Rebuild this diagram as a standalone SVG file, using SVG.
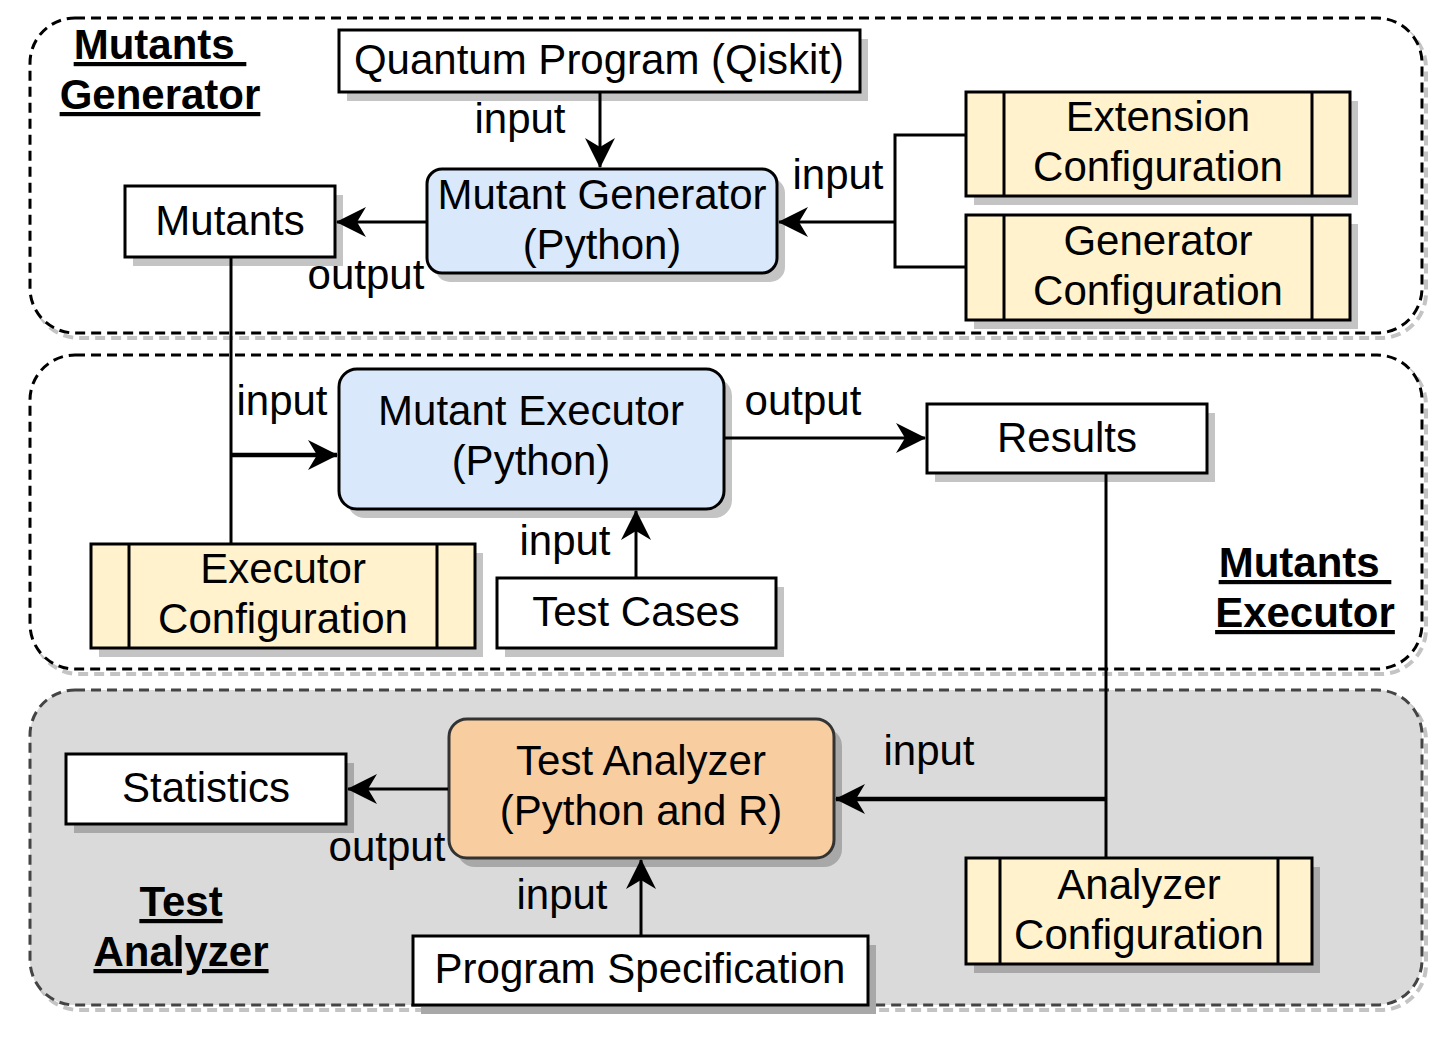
<svg xmlns="http://www.w3.org/2000/svg" width="1450" height="1050" viewBox="0 0 1450 1050">
<defs>
<marker id="arr" markerUnits="userSpaceOnUse" markerWidth="32" markerHeight="32" viewBox="0 0 32 32" refX="30" refY="16" orient="auto">
<path d="M 1 1 L 31 16 L 1 31 L 10 16 Z" fill="#000"/>
</marker>
<style>
text{font-family:"Liberation Sans",Arial,Helvetica,sans-serif;font-size:42px;fill:#000;text-anchor:middle}
.t{font-weight:bold;text-decoration:underline;white-space:pre}
.box{stroke:#000;stroke-width:3}
.sh{fill:#c4c4c4;stroke:none}
.cont{fill:#fff;stroke:#000;stroke-width:3;stroke-dasharray:10 6}
.csh{fill:none;stroke:#c4c4c4;stroke-width:4;stroke-dasharray:10 6}
.e{fill:none;stroke:#000;stroke-width:3}
</style>
</defs>

<g id="group-generator">
<rect x="34" y="23" width="1392" height="315" rx="45" class="csh"/>
<rect x="30" y="18" width="1392" height="315" rx="45" class="cont"/>
<text class="t" x="160" y="59">Mutants </text>
<text class="t" x="160" y="109">Generator</text>
</g>
<g id="group-executor">
<rect x="34" y="360" width="1392" height="314" rx="45" class="csh"/>
<rect x="30" y="355" width="1392" height="314" rx="45" class="cont"/>
<text class="t" x="1305" y="577">Mutants </text>
<text class="t" x="1305" y="627">Executor</text>
</g>
<g id="group-analyzer">
<rect x="34" y="695" width="1392" height="315" rx="45" class="csh"/>
<rect x="30" y="690" width="1392" height="315" rx="45" class="cont" style="fill:#dadada;stroke:#444"/>
<text class="t" x="181" y="916">Test</text>
<text class="t" x="181" y="966">Analyzer</text>
</g>

<g id="quantum-program">
<rect x="347" y="39" width="521" height="62" class="sh"/>
<rect x="339" y="30" width="521" height="62" class="box" fill="#fff"/>
<text x="599" y="74">Quantum Program (Qiskit)</text>
</g>
<g id="mutant-generator">
<rect x="435" y="178" width="350" height="104" rx="15" class="sh"/>
<rect x="427" y="169" width="350" height="104" rx="15" class="box" fill="#dae8fc"/>
<text x="602" y="209">Mutant Generator</text>
<text x="602" y="259">(Python)</text>
</g>
<g id="mutants">
<rect x="133" y="195" width="210" height="71" class="sh"/>
<rect x="125" y="186" width="210" height="71" class="box" fill="#fff"/>
<text x="230" y="235">Mutants</text>
</g>
<g id="extension-config">
<rect x="974" y="101" width="384" height="104" class="sh"/>
<rect x="966" y="92" width="384" height="104" class="box" fill="#fff2cc"/>
<path d="M 1004 92 L 1004 196 M 1312 92 L 1312 196" class="box"/>
<text x="1158" y="131">Extension</text>
<text x="1158" y="181">Configuration</text>
</g>
<g id="generator-config">
<rect x="974" y="224" width="384" height="105" class="sh"/>
<rect x="966" y="215" width="384" height="105" class="box" fill="#fff2cc"/>
<path d="M 1004 215 L 1004 320 M 1312 215 L 1312 320" class="box"/>
<text x="1158" y="255">Generator</text>
<text x="1158" y="305">Configuration</text>
</g>
<g id="mutant-executor">
<rect x="347" y="378" width="385" height="140" rx="18" class="sh"/>
<rect x="339" y="369" width="385" height="140" rx="18" class="box" fill="#dae8fc"/>
<text x="531" y="425">Mutant Executor</text>
<text x="531" y="475">(Python)</text>
</g>
<g id="results">
<rect x="935" y="413" width="280" height="69" class="sh"/>
<rect x="927" y="404" width="280" height="69" class="box" fill="#fff"/>
<text x="1067" y="452">Results</text>
</g>
<g id="executor-config">
<rect x="99" y="553" width="384" height="104" class="sh"/>
<rect x="91" y="544" width="384" height="104" class="box" fill="#fff2cc"/>
<path d="M 129 544 L 129 648 M 437 544 L 437 648" class="box"/>
<text x="283" y="583">Executor</text>
<text x="283" y="633">Configuration</text>
</g>
<g id="test-cases">
<rect x="505" y="587" width="279" height="70" class="sh"/>
<rect x="497" y="578" width="279" height="70" class="box" fill="#fff"/>
<text x="636" y="626">Test Cases</text>
</g>
<g id="statistics">
<rect x="74" y="763" width="280" height="70" class="sh" style="fill:#a8a8a8"/>
<rect x="66" y="754" width="280" height="70" class="box" fill="#fff"/>
<text x="206" y="802">Statistics</text>
</g>
<g id="test-analyzer">
<rect x="457" y="728" width="385" height="139" rx="18" class="sh" style="fill:#a8a8a8"/>
<rect x="449" y="719" width="385" height="139" rx="18" class="box" fill="#f8cda0" style="stroke:#333"/>
<text x="641" y="775">Test Analyzer</text>
<text x="641" y="825">(Python and R)</text>
</g>
<g id="program-spec">
<rect x="421" y="945" width="455" height="69" class="sh" style="fill:#a8a8a8"/>
<rect x="413" y="936" width="455" height="69" class="box" fill="#fff"/>
<text x="640" y="983">Program Specification</text>
</g>
<g id="analyzer-config">
<rect x="974" y="867" width="346" height="106" class="sh" style="fill:#a8a8a8"/>
<rect x="966" y="858" width="346" height="106" class="box" fill="#fff2cc"/>
<path d="M 1000 858 L 1000 964 M 1278 858 L 1278 964" class="box"/>
<text x="1139" y="899">Analyzer</text>
<text x="1139" y="949">Configuration</text>
</g>

<g id="connectors">
<path class="e" d="M 600 93 L 600 167" marker-end="url(#arr)"/>
<path class="e" d="M 426 222 L 337 222" marker-end="url(#arr)"/>
<path class="e" d="M 965 135 L 895 135 L 895 267 L 965 267 M 895 222 L 779 222" marker-end="url(#arr)"/>
<path class="e" d="M 231 258 L 231 543"/>
<path class="e" style="stroke-width:4.5" d="M 231 455 L 337 455" marker-end="url(#arr)"/>
<path class="e" d="M 725 438 L 925 438" marker-end="url(#arr)"/>
<path class="e" d="M 636 577 L 636 511" marker-end="url(#arr)"/>
<path class="e" d="M 1106 474 L 1106 857"/>
<path class="e" style="stroke-width:4.5" d="M 1106 799 L 836 799" marker-end="url(#arr)"/>
<path class="e" d="M 448 789 L 348 789" marker-end="url(#arr)"/>
<path class="e" d="M 641 935 L 641 860" marker-end="url(#arr)"/>
<text x="520" y="133">input</text>
<text x="366" y="289">output</text>
<text x="838" y="189">input</text>
<text x="282" y="415">input</text>
<text x="803" y="415">output</text>
<text x="565" y="555">input</text>
<text x="929" y="765">input</text>
<text x="387" y="861">output</text>
<text x="562" y="909">input</text>
</g>
</svg>
